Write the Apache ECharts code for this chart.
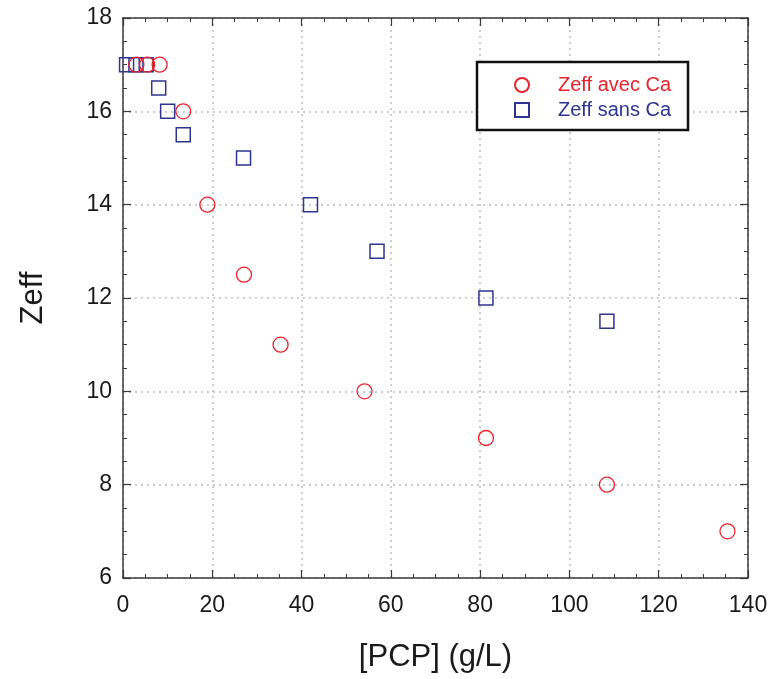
<!DOCTYPE html>
<html>
<head>
<meta charset="utf-8">
<script src="https://cdn.jsdelivr.net/npm/echarts@6/dist/echarts.min.js"></script>
<style>
html,body{margin:0;padding:0;background:#fff;}
#chart{width:775px;height:679px;}
</style>
</head>
<body>
<div id="chart"></div>
<script>
// Data
var seriesNames = ['Zeff avec Ca', 'Zeff sans Ca'];
var pcpAvec  = [3.0, 5.4, 8.2, 13.5, 18.9, 27.1, 35.3, 54.1, 81.3, 108.4, 135.4];
var zeffAvec = [17, 17, 17, 16, 14, 12.5, 11, 10, 9, 8, 7];
var pcpSans  = [0.8, 2.9, 5.2, 8.0, 10.0, 13.5, 27.0, 42.0, 56.9, 81.3, 108.4];
var zeffSans = [17, 17, 17, 16.5, 16, 15.5, 15, 14, 13, 12, 11.5];
var xTitle = '[PCP] (g/L)';
var yTitle = 'Zeff';

var RED = '#e8232c';
var BLUE = '#2e3590';
var FONT = 'Liberation Sans, Arial, sans-serif';

function pairs(xs, ys){ return xs.map(function(x,i){ return [x, ys[i]]; }); }

var axisLineStyle = {color:'#3a3a3a', width:1.5};
function makeX(primary){
  return {
    type:'value', min:0, max:140, interval:20,
    position: primary ? 'bottom' : 'top',
    axisLine:{show:true, onZero:false, lineStyle:axisLineStyle},
    axisTick:{show:true, inside:true, length:8, lineStyle:{color:'#3a3a3a', width:1.2}},
    minorTick:{show:true, splitNumber:4, length:4, lineStyle:{color:'#3a3a3a', width:1}},
    axisLabel:{show:primary, margin:16, fontSize:23, color:'#1a1a1a', fontFamily:FONT},
    splitLine:{show:primary, lineStyle:{color:'#bdbdbd', width:1.5, type:[2,4]}},
    name: primary ? xTitle : '', nameLocation:'middle', nameGap:64,
    nameTextStyle:{fontSize:31, color:'#1a1a1a', fontFamily:FONT}
  };
}
function makeY(primary){
  return {
    type:'value', min:6, max:18, interval:2,
    position: primary ? 'left' : 'right',
    axisLine:{show:true, onZero:false, lineStyle:axisLineStyle},
    axisTick:{show:true, inside:true, length:8, lineStyle:{color:'#3a3a3a', width:1.2}},
    minorTick:{show:true, splitNumber:4, length:4, lineStyle:{color:'#3a3a3a', width:1}},
    axisLabel:{show:primary, margin:11, fontSize:23, color:'#1a1a1a', fontFamily:FONT},
    splitLine:{show:primary, lineStyle:{color:'#bdbdbd', width:1.5, type:[2,4]}},
    name: primary ? yTitle : '', nameLocation:'middle', nameGap:74,
    nameTextStyle:{fontSize:31, color:'#1a1a1a', fontFamily:FONT}
  };
}

var chart = echarts.init(document.getElementById('chart'), null, {renderer:'canvas'});
chart.setOption({
  animation:false,
  backgroundColor:'#fff',
  grid:{left:123, right:27, top:18, bottom:101, containLabel:false},
  xAxis:[makeX(true), makeX(false)],
  yAxis:[makeY(true), makeY(false)],
  legend:{
    show:true, orient:'vertical', left:477, top:62,
    padding:[13, 17, 10, 37],
    borderColor:'#111', borderWidth:2.5, backgroundColor:'#fff',
    itemWidth:14, itemHeight:14, itemGap:5,
    selectedMode:false,
    textStyle:{fontSize:20, fontFamily:FONT, padding:[0,0,0,24]},
    data:[
      {name:seriesNames[0], icon:'circle', textStyle:{color:RED}},
      {name:seriesNames[1], icon:'rect', textStyle:{color:BLUE}}
    ]
  },
  series:[
    {
      name:seriesNames[0], type:'scatter', xAxisIndex:0, yAxisIndex:0,
      symbol:'circle', symbolSize:15,
      itemStyle:{color:'rgba(0,0,0,0)', borderColor:RED, borderWidth:1.3, opacity:1},
      data:pairs(pcpAvec, zeffAvec), z:3
    },
    {
      name:seriesNames[1], type:'scatter', xAxisIndex:0, yAxisIndex:0,
      symbol:'rect', symbolSize:14,
      itemStyle:{color:'rgba(0,0,0,0)', borderColor:BLUE, borderWidth:1.5, opacity:1},
      data:pairs(pcpSans, zeffSans), z:2
    }
  ]
});
</script>
</body>
</html>
